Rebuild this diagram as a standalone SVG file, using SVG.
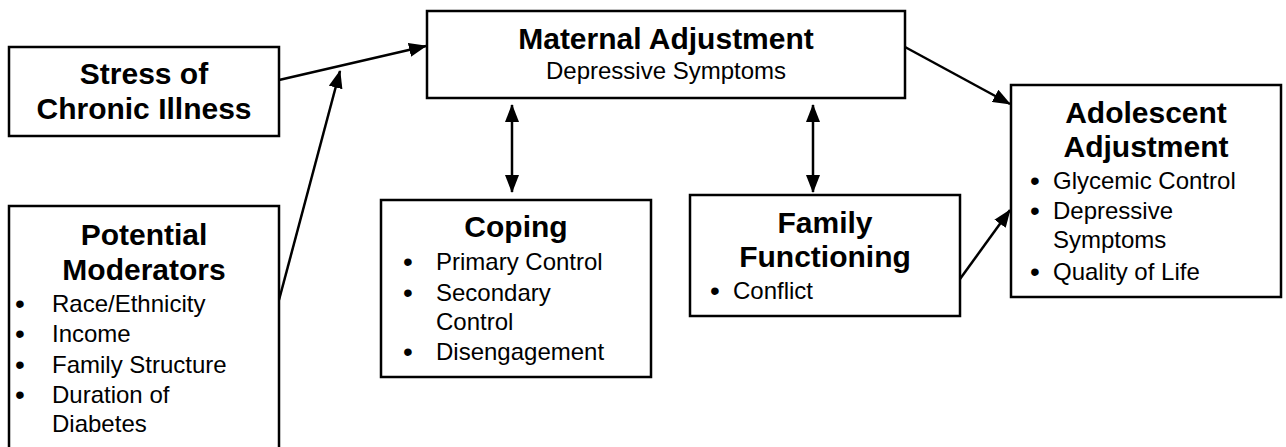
<svg xmlns="http://www.w3.org/2000/svg" width="1286" height="447" viewBox="0 0 1286 447">
<style>
.box{fill:#fff;stroke:#000;stroke-width:2.5}
.t{font-family:"Liberation Sans",Arial,sans-serif;font-size:30px;font-weight:bold;fill:#000;text-anchor:middle}
.r{font-family:"Liberation Sans",Arial,sans-serif;font-size:24px;fill:#000}
.b{font-family:"Liberation Sans",Arial,sans-serif;font-size:28px;fill:#000}
.c{text-anchor:middle}
.ln{stroke:#000;stroke-width:2.5;fill:none}
</style>
<defs>
<marker id="ah" markerUnits="userSpaceOnUse" markerWidth="18" markerHeight="14" refX="17" refY="7" orient="auto-start-reverse" viewBox="0 0 18 14">
<path d="M0,0 L18,7 L0,14 Z" fill="#000"/>
</marker>
</defs>
<rect width="1286" height="447" fill="#fff"/>
<g id="connectors">
<line class="ln" x1="279" y1="80" x2="426" y2="46" marker-end="url(#ah)"/>
<line class="ln" x1="279" y1="300" x2="340" y2="71" marker-end="url(#ah)"/>
<line class="ln" x1="905" y1="47" x2="1010" y2="104" marker-end="url(#ah)"/>
<line class="ln" x1="960" y1="279" x2="1010" y2="210" marker-end="url(#ah)"/>
<line class="ln" x1="512" y1="105" x2="512" y2="192" marker-start="url(#ah)" marker-end="url(#ah)"/>
<line class="ln" x1="813" y1="105" x2="813" y2="192" marker-start="url(#ah)" marker-end="url(#ah)"/>
</g>
<g id="stress">
<rect class="box" x="9" y="47" width="270" height="89"/>
<text class="t" x="144" y="84">Stress of</text>
<text class="t" x="144" y="119">Chronic Illness</text>
</g>
<g id="maternal">
<rect class="box" x="427" y="11" width="478" height="87"/>
<text class="t" x="666" y="49">Maternal Adjustment</text>
<text class="r c" x="666" y="79">Depressive Symptoms</text>
</g>
<g id="moderators">
<rect class="box" x="9" y="206" width="270" height="260"/>
<text class="t" x="144" y="245">Potential</text>
<text class="t" x="144" y="280">Moderators</text>
<text class="b" x="15" y="313">•</text><text class="r" x="52" y="312">Race/Ethnicity</text>
<text class="b" x="15" y="343">•</text><text class="r" x="52" y="342">Income</text>
<text class="b" x="15" y="374">•</text><text class="r" x="52" y="373">Family Structure</text>
<text class="b" x="15" y="404">•</text><text class="r" x="52" y="403">Duration of</text>
<text class="r" x="52" y="432">Diabetes</text>
</g>
<g id="coping">
<rect class="box" x="381" y="200" width="270" height="177"/>
<text class="t" x="516" y="237">Coping</text>
<text class="b" x="403" y="271">•</text><text class="r" x="436" y="270">Primary Control</text>
<text class="b" x="403" y="302">•</text><text class="r" x="436" y="301">Secondary</text>
<text class="r" x="436" y="330">Control</text>
<text class="b" x="403" y="361">•</text><text class="r" x="436" y="360">Disengagement</text>
</g>
<g id="family">
<rect class="box" x="690" y="195" width="270" height="121"/>
<text class="t" x="825" y="233">Family</text>
<text class="t" x="825" y="267">Functioning</text>
<text class="b" x="710" y="300">•</text><text class="r" x="733" y="299">Conflict</text>
</g>
<g id="adolescent">
<rect class="box" x="1011" y="85" width="270" height="212"/>
<text class="t" x="1146" y="123">Adolescent</text>
<text class="t" x="1146" y="157">Adjustment</text>
<text class="b" x="1030" y="190">•</text><text class="r" x="1053" y="189">Glycemic Control</text>
<text class="b" x="1030" y="220">•</text><text class="r" x="1053" y="219">Depressive</text>
<text class="r" x="1053" y="248">Symptoms</text>
<text class="b" x="1030" y="281">•</text><text class="r" x="1053" y="280">Quality of Life</text>
</g>
</svg>
